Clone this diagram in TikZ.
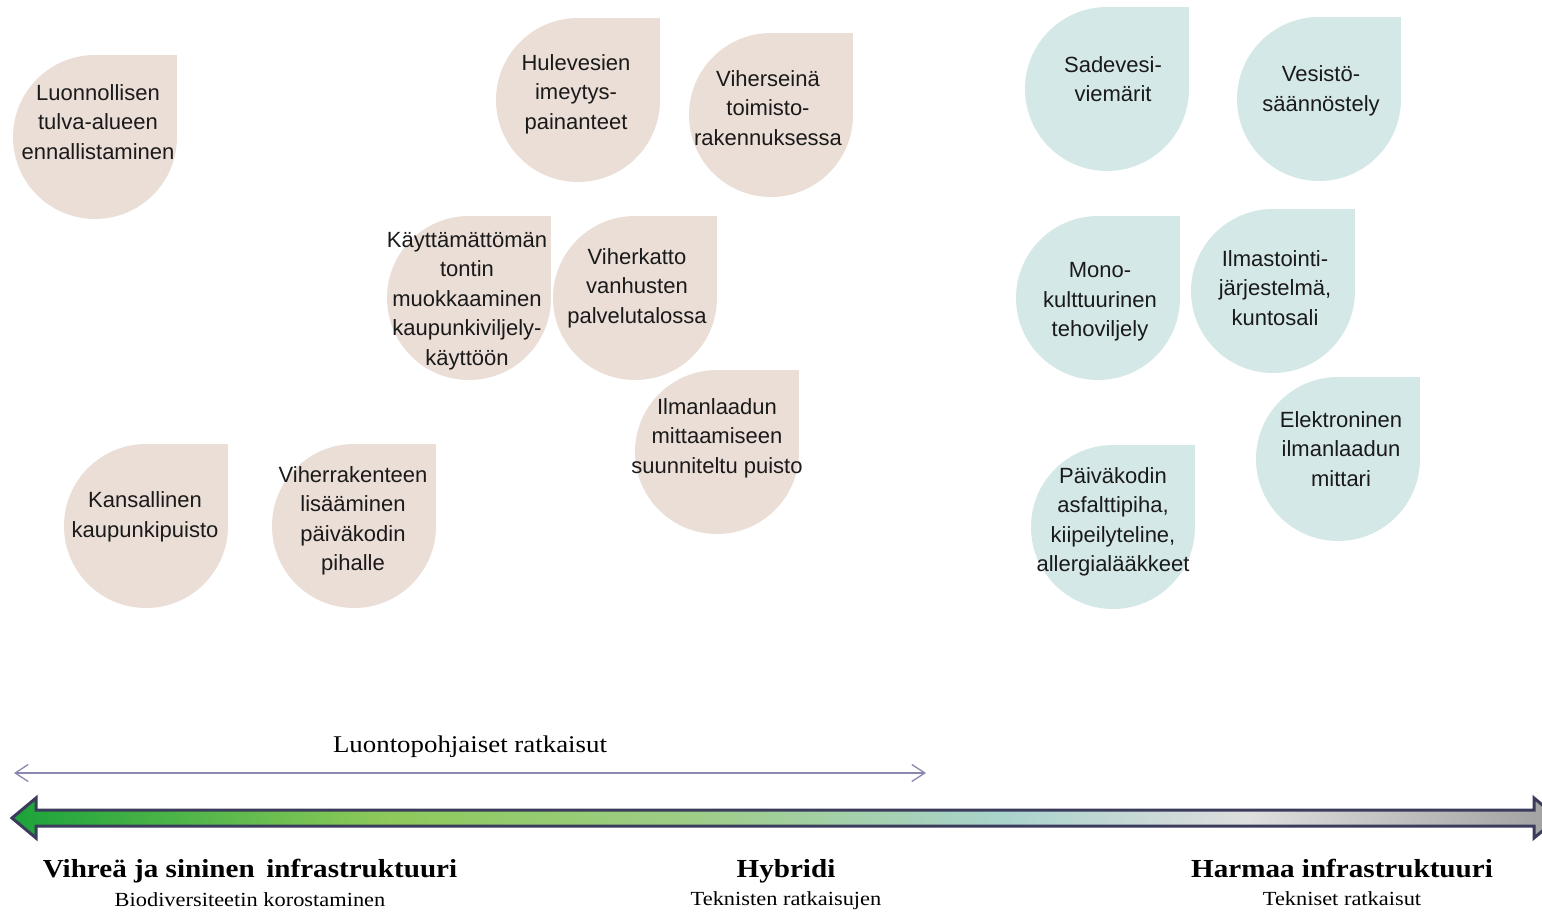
\documentclass[tikz,border=0pt]{standalone}
\usepackage{fontspec}
\setmainfont{Liberation Sans}
\newfontfamily\capserif[FakeStretch=1.12]{Liberation Serif}
\usetikzlibrary{arrows.meta,positioning}
\definecolor{dropbeige}{RGB}{234,222,214}
\definecolor{dropblue}{RGB}{213,232,232}
\definecolor{droptext}{RGB}{26,26,26}
\definecolor{scaleline}{RGB}{59,59,92}
\definecolor{natline}{RGB}{136,136,176}
\definecolor{infragreen}{RGB}{27,163,58}
\definecolor{infralime}{RGB}{141,201,90}
\definecolor{infrahyb}{RGB}{158,205,135}
\definecolor{infrateal}{RGB}{170,211,204}
\definecolor{infralight}{RGB}{222,222,222}
\definecolor{infragrey}{RGB}{160,160,160}
\pgfdeclarehorizontalshading{infrascale}{100bp}{color(0bp)=(infragreen); color(25bp)=(infragreen); color(37bp)=(infralime); color(47bp)=(infrahyb); color(57bp)=(infrateal); color(65bp)=(infralight); color(75bp)=(infragrey); color(100bp)=(infragrey)}

% droplet: name, centre, text position, colour, text
\newcommand{\droplet}[5]{%
  \fill[#4] (#2) circle[radius=82];
  \fill[#4] (#2) rectangle ++(82,-82);
  \node[droplabel] (#1) at (#3) {#5};
}

\begin{document}
\begin{tikzpicture}[
    x=1pt, y=-1pt,
    droplabel/.style={font={\fontsize{22}{29.5}\selectfont}, align=center, text=droptext, inner sep=0pt},
    bigscale/.style={draw=scaleline, line width=3pt, line join=miter, shading=infrascale},
    natarrow/.style={{Straight Barb[length=13pt,width=17pt]}-{Straight Barb[length=13pt,width=17pt]}, line width=1.3pt, natline},
    headlbl/.style={font={\capserif\bfseries\fontsize{26}{30}\selectfont}, anchor=base, inner sep=0pt},
    sublbl/.style={font={\capserif\fontsize{20}{24}\selectfont}, anchor=base, inner sep=0pt}
  ]
    \useasboundingbox (0,0) rectangle (1542,911);

    % nature based
    \droplet{tulva}{95,137}{98,122}{dropbeige}{Luonnollisen\\tulva-alueen\\ennallistaminen}
    \droplet{hule}{578,100}{576,94}{dropbeige}{Hulevesien\\imeytys-\\painanteet}
    \droplet{seina}{771,115}{768,108}{dropbeige}{Viherseinä\\toimisto-\\rakennuksessa}
    \droplet{tontti}{469,298}{467,301}{dropbeige}{Käyttämättömän\\tontin\\muokkaaminen\\kaupunkiviljely-\\käyttöön}
    \droplet{katto}{635,298}{637,288}{dropbeige}{Viherkatto\\vanhusten\\palvelutalossa}
    \droplet{puisto}{717,452}{717,438}{dropbeige}{Ilmanlaadun\\mittaamiseen\\suunniteltu puisto}
    \droplet{kansallinen}{146,526}{145,517}{dropbeige}{Kansallinen\\kaupunkipuisto}
    \droplet{piha}{354,526}{353,521}{dropbeige}{Viherrakenteen\\lisääminen\\päiväkodin\\pihalle}

    % grey
    \droplet{sade}{1107,89}{1113,79}{dropblue}{Sadevesi-\\viemärit}
    \droplet{vesisto}{1319,99}{1321,91}{dropblue}{Vesistö-\\säännöstely}
    \droplet{mono}{1098,298}{1100,302}{dropblue}{Mono-\\kulttuurinen\\tehoviljely}
    \droplet{ilmastointi}{1273,291}{1275,288}{dropblue}{Ilmastointi-\\järjestelmä,\\kuntosali}
    \droplet{mittari}{1338,459}{1341,449}{dropblue}{Elektroninen\\ilmanlaadun\\mittari}
    \droplet{asfaltti}{1113,527}{1113,522}{dropblue}{Päiväkodin\\asfalttipiha,\\kiipeilyteline,\\allergialääkkeet}

    % scale
    \coordinate (natl) at (14,773);
    \coordinate (natr) at (926,773);
    \draw[natarrow] (natl) -- node[above=15pt, inner sep=0pt, text=black, font={\capserif\fontsize{24}{28}\selectfont}] (natlbl) {Luontopohjaiset ratkaisut} (natr);
    \coordinate (scalel) at (12,818);
    \draw[bigscale] (scalel) -- ++(24,-20) -- ++(0,12) -- ++(1498,0) -- ++(0,-12) -- ++(24,20)
      -- ++(-24,20) -- ++(0,-12) -- ++(-1498,0) -- ++(0,12) -- cycle;

    \node[headlbl] (green) at (250,877) {Vihreä ja sininen\, infrastruktuuri};
    \node[sublbl] (greensub) at (250,906) {Biodiversiteetin korostaminen};
    \node[headlbl] (hybrid) at (786,877) {Hybridi};
    \node[sublbl] (hybridsub) at (786,905) {Teknisten ratkaisujen};
    \node[headlbl] (grey) at (1342,877) {Harmaa infrastruktuuri};
    \node[sublbl] (greysub) at (1342,905) {Tekniset ratkaisut};
  \end{tikzpicture}
\end{document}
